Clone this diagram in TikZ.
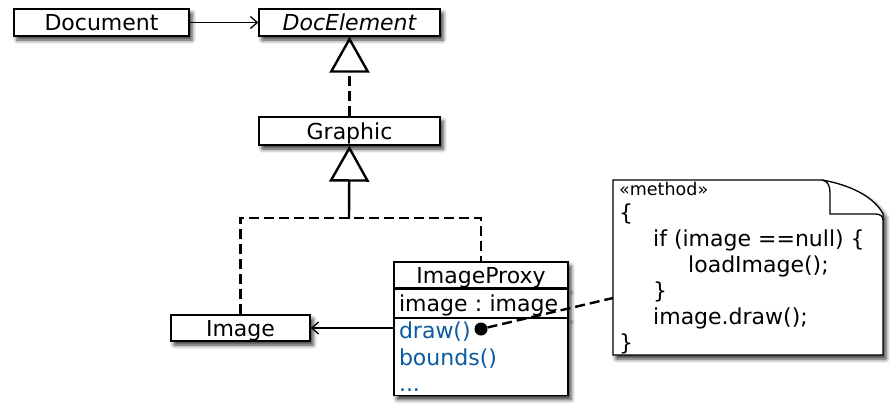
\documentclass[tikz,border=0pt]{standalone}
\usepackage{fontspec}
\setmainfont{DejaVu Sans}
\usepackage{tikz}
\usetikzlibrary{arrows.meta,positioning,shadows.blur}
\definecolor{opblue}{RGB}{12,90,160}
\frenchspacing

\begin{document}
\begin{tikzpicture}[x=1pt,y=-1pt]
\tikzstyle{shade}=[blur shadow={shadow xshift=3pt,shadow yshift=-4pt,shadow blur radius=4pt,shadow opacity=80}]
\tikzstyle{cls}=[draw,fill=white,line width=1.3pt,inner sep=0pt,minimum height=27pt,text height=16pt,text depth=0pt,font=\fontsize{22}{26}\selectfont,shade]
\tikzstyle{row}=[draw,fill=white,line width=1.3pt,inner sep=5pt,text width=164pt,align=left,font=\fontsize{22}{26}\selectfont]
\tikzstyle{gen}=[line width=2.4pt,-{Triangle[open,length=36pt,width=40pt]}]
\tikzstyle{assoc}=[line width=1.3pt,-{Straight Barb[length=7pt,width=12pt]}]
\tikzstyle{dashline}=[line width=2.4pt,dash pattern=on 10pt off 5pt]
\tikzstyle{code}=[anchor=base west,inner sep=0pt,font=\fontsize{22}{26}\selectfont]
\useasboundingbox (0,0) rectangle (896,413);
\node[cls,minimum width=175pt] (document) at (101.5,22.5) {Document};
\node[cls,minimum width=181pt] (docelement) at (349.5,22.5) {\itshape DocElement};
\node[cls,minimum width=181pt,minimum height=28pt] (graphic) at (349.5,131) {Graphic};
\node[cls,minimum width=139pt,minimum height=26pt] (image) at (240.5,328) {Image};
\node[cls,minimum width=174pt,minimum height=26pt] (proxy) at (481,275) {ImageProxy};
\node[row,shade,below=0pt of proxy,minimum height=28pt,inner ysep=0pt,text height=16pt,text depth=0pt] (proxyattr) {image : image};
\node[row,shade,below=0pt of proxyattr,minimum height=77pt,inner ysep=0pt,text=opblue,font=\fontsize{22}{26.5}\selectfont] (proxyops) {draw()\\bounds()\\...};
\node[circle,fill=black,inner sep=0pt,minimum size=13pt] (dot) at (481,329) {};
\coordinate (junction) at (349,218);
\coordinate (notepin) at (613,298);
\filldraw[fill=white,line width=1.3pt,shade] (613,180) -- (822,180) .. controls (856,186) and (876,200) .. (883,214) -- (883,355) -- (613,355) -- cycle;
\draw[line width=1.3pt] (822,180) .. controls (828,181) and (830,186) .. (830,193) -- (830,214) -- (875,214) .. controls (880,214) and (883,216) .. (883,220);
\node[code,font=\fontsize{17.5}{20}\selectfont] (stereo) at (619,195) {«method»};
\foreach \i/\dx/\txt in {
	1/0/\{,
	2/34/if (image ==null) \{,
	3/69/loadImage();,
	4/34/\},
	5/34/image.draw();,
	6/0/\}}
	\node[code] (line\i) at (619+\dx,194+26*\i) {\txt};
\draw[assoc] (document) -- (docelement);
\draw[gen,dashline] (graphic) -- (docelement);
\draw[gen] (junction) -- (graphic);
\draw[dashline] (image) |- (junction) -| (proxy);
\draw[assoc] (proxyops.west |- image) -- (image);
\draw[dashline] (dot) -- (notepin);
\end{tikzpicture}
\end{document}
